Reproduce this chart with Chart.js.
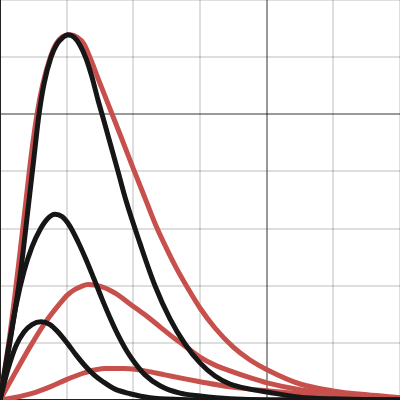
<!DOCTYPE html>
<html><head><meta charset="utf-8">
<script src="https://cdn.jsdelivr.net/npm/chart.js@4"></script>
<style>html,body{margin:0;padding:0;background:#fff}#w{width:400px;height:400px}</style>
</head><body><div id="w"><canvas id="c"></canvas></div>
<script>
const xTicks = [0,1,2,3,4,5,6];
const yTicks = [0,1,2,3,4,5,6,7];

const black1X = [0,.12,.24,.36,.48,.615,.75,.87,1.005,1.14,1.275,1.41,1.545,1.725,1.95,2.25,2.7,3.3,6.0];
const black1Y = [0,.54,.95,1.19,1.32,1.37,1.32,1.19,1.0,.79,.60,.44,.32,.19,.11,.04,.01,0,0];

const black2X = [0,.12,.24,.36,.48,.6,.72,.825,.93,1.05,1.17,1.29,1.41,1.53,1.65,1.77,1.89,2.01,2.175,2.4,2.7,3.0,3.45,4.005,6.0];
const black2Y = [0,.86,1.65,2.25,2.68,2.98,3.18,3.25,3.21,3.04,2.77,2.46,2.12,1.77,1.44,1.14,0.88,0.67,0.44,0.25,0.12,0.07,0.02,0,0];

const black3X = [0,.15,.3,.435,.51,.585,.66,.765,.855,.93,1.02,1.11,1.2,1.29,1.38,1.47,1.56,1.665,1.77,1.89,2.1,2.325,2.55,2.775,3.0,3.225,3.45,3.75,4.005,4.5,4.995,6.0];
const black3Y = [0,1.02,2.16,3.49,4.25,5.0,5.53,6.0,6.23,6.33,6.39,6.35,6.21,5.98,5.65,5.25,4.88,4.44,4.0,3.49,2.74,2.0,1.42,0.98,0.65,0.42,0.28,0.19,0.14,0.05,0.02,0];

const red1X = [0,.225,.495,.75,1.005,1.275,1.575,1.875,2.175,2.475,2.775,3.0,3.45,4.005,4.5,4.995,5.505,6.0];
const red1Y = [0,.044,.12,.23,.36,.48,.55,.55,.51,.44,.37,.32,.23,.16,.11,.07,.04,.03];

const red2X = [0,.225,.45,.675,.9,1.005,1.11,1.215,1.32,1.53,1.74,1.95,2.175,2.4,2.625,2.85,3.0,3.225,3.45,3.75,4.005,4.5,4.995,5.505,6.0];
const red2Y = [0,.47,.93,1.35,1.69,1.83,1.925,1.985,2.02,1.98,1.86,1.68,1.49,1.28,1.07,.88,.75,.61,.51,.39,.30,.18,.11,.05,.03];

const red3X = [0,.15,.3,.39,.465,.555,.645,.75,.84,.93,1.05,1.155,1.26,1.365,1.47,1.605,1.8,2.01,2.19,2.34,2.49,2.64,2.82,3.0,3.225,3.495,3.75,4.005,4.5,4.995,5.505,6.0];
const red3Y = [0,1.16,2.58,3.49,4.25,5.0,5.54,5.98,6.23,6.35,6.39,6.35,6.23,5.95,5.63,5.23,4.65,4.02,3.49,3.05,2.67,2.32,1.95,1.61,1.26,0.93,0.70,0.53,0.28,0.16,0.09,0.04];

const BLACK = '#161616', RED = '#c8504c';
function pts(xs, ys){ return xs.map((x,i)=>({x:x,y:ys[i]})); }
function ds(xs, ys, col){
  return {data:pts(xs,ys), borderColor:col, backgroundColor:col, borderWidth:5,
          pointRadius:0, showLine:true, fill:false, cubicInterpolationMode:'monotone',
          borderCapStyle:'round', borderJoinStyle:'round', clip:false};
}
new Chart(document.getElementById('c'), {
  type:'scatter',
  data:{datasets:[
    ds(black1X,black1Y,BLACK), ds(black2X,black2Y,BLACK), ds(black3X,black3Y,BLACK),
    ds(red1X,red1Y,RED), ds(red2X,red2Y,RED), ds(red3X,red3Y,RED)
  ]},
  options:{
    responsive:true, maintainAspectRatio:false, animation:false,
    layout:{padding:0},
    plugins:{legend:{display:false}, tooltip:{enabled:false}},
    scales:{
      x:{type:'linear', min:xTicks[0], max:xTicks[xTicks.length-1],
         afterBuildTicks:(s)=>{s.ticks = xTicks.map(v=>({value:v}));},
         ticks:{display:false}, border:{display:true, color:'#222', width:2},
         grid:{drawTicks:false, lineWidth:2, color:(c)=> c.tick && c.tick.value===4 ? 'rgba(0,0,0,0.4)' : 'rgba(0,0,0,0.13)'}},
      y:{type:'linear', min:yTicks[0], max:yTicks[yTicks.length-1],
         afterBuildTicks:(s)=>{s.ticks = yTicks.map(v=>({value:v}));},
         ticks:{display:false}, border:{display:true, color:'#222', width:2},
         grid:{drawTicks:false, lineWidth:2, color:(c)=> c.tick && c.tick.value===5 ? 'rgba(0,0,0,0.4)' : 'rgba(0,0,0,0.13)'}}
    }
  }
});
</script></body></html>
